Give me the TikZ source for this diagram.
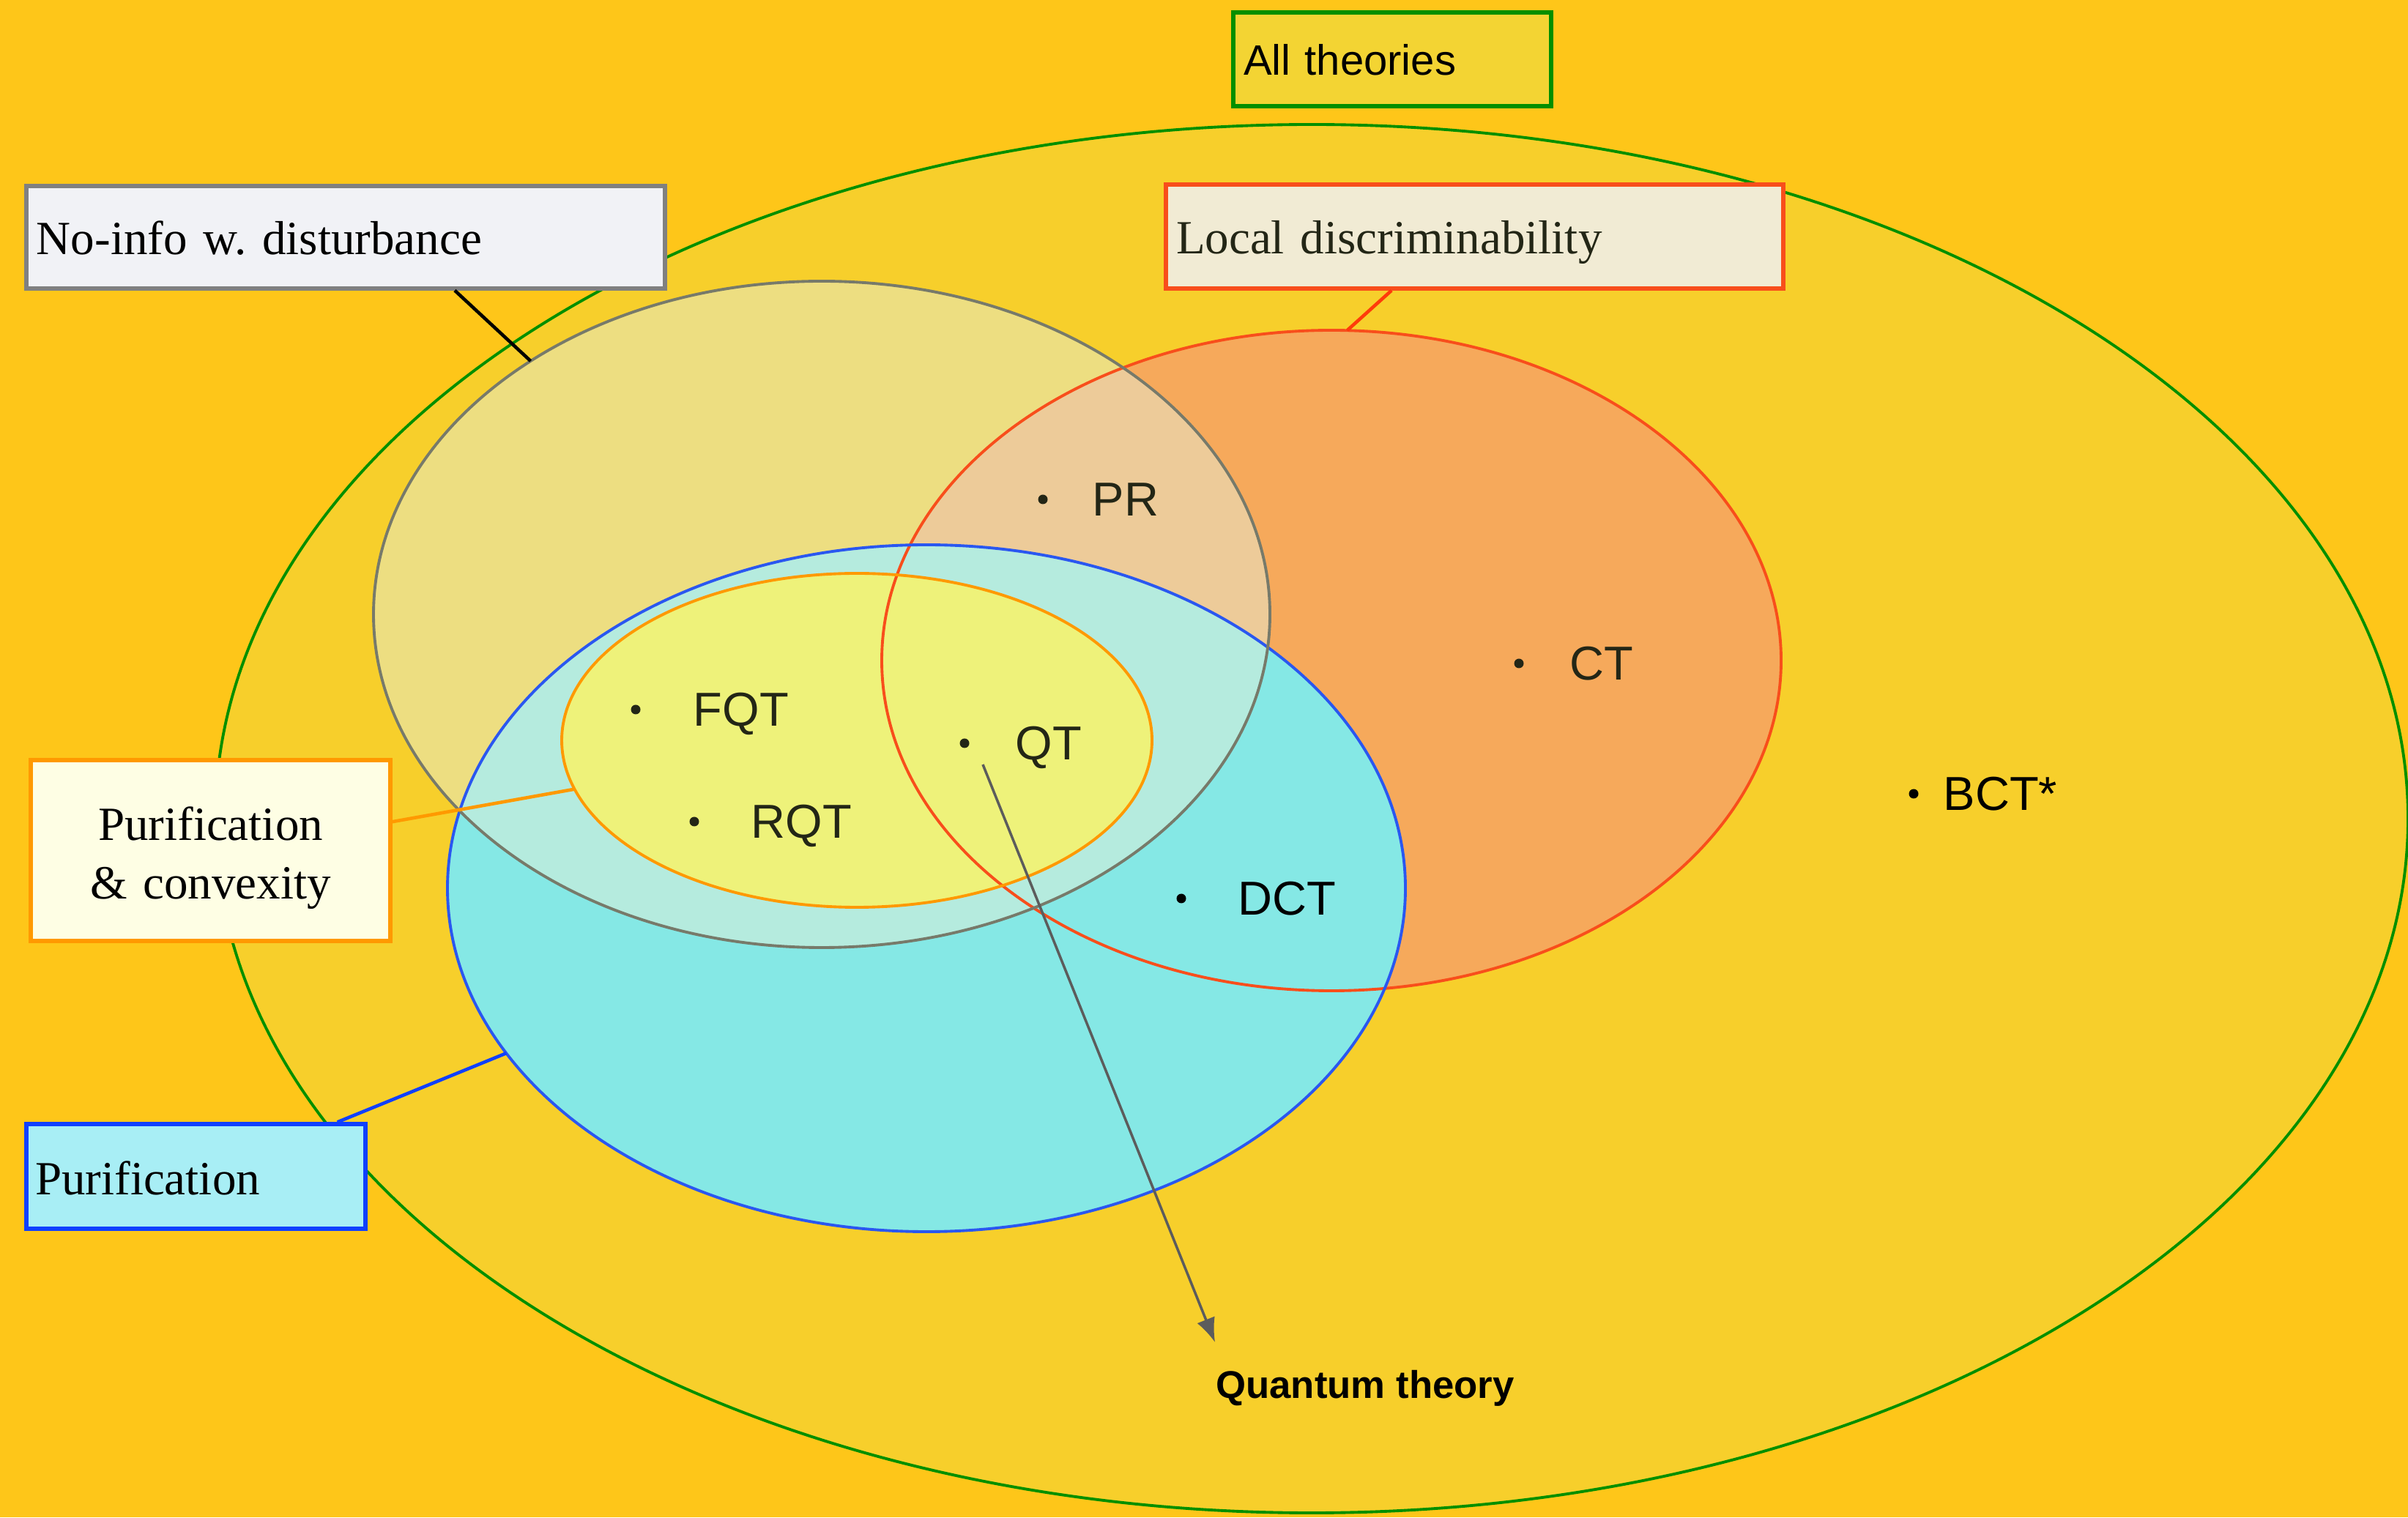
\documentclass[tikz,border=0pt]{standalone}
\usepackage{fontspec}
\setmainfont{Liberation Serif}
\setsansfont{Liberation Sans}
\usepackage{xcolor}
\usetikzlibrary{arrows.meta}

\definecolor{bgyellow}{HTML}{FEC619}
\definecolor{allfill}{HTML}{F7CF2B}
\definecolor{allbox}{HTML}{F3D433}
\definecolor{allgreen}{HTML}{008F00}
\definecolor{greyfill}{HTML}{E5EED8}
\definecolor{greyline}{HTML}{777A6A}
\definecolor{redfill}{HTML}{F6A95B}
\definecolor{redline}{HTML}{F84E1B}
\definecolor{redpin}{HTML}{FF3B0A}
\definecolor{bluefill}{HTML}{85E8E5}
\definecolor{blueline}{HTML}{2A57F0}
\definecolor{bluebox}{HTML}{1040FF}
\definecolor{yelfill}{HTML}{EEF27A}
\definecolor{orangeline}{HTML}{FF9900}
\definecolor{darktext}{HTML}{232616}
\definecolor{arrowgrey}{HTML}{5C5C5C}
\definecolor{noinfofill}{HTML}{F1F2F6}
\definecolor{localfill}{HTML}{F1EBD4}
\definecolor{purconvfill}{HTML}{FEFEE4}
\definecolor{puriffill}{HTML}{A8EEF5}

\frenchspacing

\begin{document}
\begin{tikzpicture}[%
    set/.style = {line width=1.1pt},
    box/.style = {draw, line width=1.5pt, inner ysep=0pt, inner xsep=0.14cm, align=left,
                  font=\fontsize{18.5}{22.8}\selectfont},
    oneline/.style = {text height=13.6pt, text depth=0pt},
    theory/.style = {anchor=west, inner sep=0pt, text depth=0pt,
                     font=\sffamily\fontsize{18.5}{22}\selectfont},
    pin/.style = {line width=1.3pt},
    qtarrow/.style = {draw=arrowgrey, line width=1pt, -{Latex[length=0.33cm, width=0.26cm]}}
]
\useasboundingbox (0,0) rectangle (32.88,20.72);
\fill[bgyellow] (0,0) rectangle (32.88,20.72);

\coordinate (allc) at (17.91,9.54);
\coordinate (greyc) at (11.22,12.33);
\coordinate (redc) at (18.18,11.70);
\coordinate (bluec) at (12.65,8.59);
\coordinate (yelc) at (11.70,10.61);

% fills first, outlines on top
\fill[allfill] (allc) ellipse [x radius=14.97, y radius=9.48];
\fill[redfill] (redc) ellipse [x radius=6.14, y radius=4.51];
\fill[bluefill] (bluec) ellipse [x radius=6.54, y radius=4.69];
\fill[greyfill, fill opacity=0.5] (greyc) ellipse [x radius=6.12, y radius=4.55];
\fill[yelfill] (yelc) ellipse [x radius=4.03, y radius=2.28];

\draw[set, allgreen] (allc) ellipse [x radius=14.97, y radius=9.48];
\draw[set, redline] (redc) ellipse [x radius=6.14, y radius=4.51];
\draw[set, blueline] (bluec) ellipse [x radius=6.54, y radius=4.69];
\draw[set, greyline] (greyc) ellipse [x radius=6.12, y radius=4.55];
\draw[set, orangeline] (yelc) ellipse [x radius=4.03, y radius=2.28];

% where the labels touch their sets
\path (greyc) ++(130.5:6.12 and 4.55) coordinate (noinfo-pin);
\path (redc) ++(88:6.14 and 4.51) coordinate (local-pin);
\path (yelc) ++(197:4.03 and 2.28) coordinate (purconv-pin);
\path (bluec) ++(208.7:6.54 and 4.69) coordinate (purif-pin);

\node[box, oneline, text height=12.5pt, draw=allgreen, fill=allbox,
      font=\sffamily\fontsize{16.5}{20}\selectfont,
      minimum width=4.34cm, minimum height=1.28cm, text width=4.06cm]
    (alltheories) at (19.01,19.91) {All theories};
\node[box, oneline, draw=gray, fill=noinfofill,
      minimum width=8.72cm, minimum height=1.40cm, text width=8.44cm]
    (noinfo) at (4.72,17.48) {No-info w. disturbance};
\node[box, oneline, draw=redline, fill=localfill, text=darktext,
      minimum width=8.43cm, minimum height=1.42cm, text width=8.15cm]
    (localdisc) at (20.135,17.49) {Local discriminability};
\node[box, draw=orangeline, fill=purconvfill, align=center, text depth=21pt,
      minimum width=4.91cm, minimum height=2.47cm, text width=4.63cm]
    (purconv) at (2.875,9.105) {Purification\\\& convexity};
\node[box, oneline, text height=14.5pt, draw=bluebox, fill=puriffill,
      minimum width=4.63cm, minimum height=1.43cm, text width=4.39cm, inner xsep=0.12cm]
    (purif) at (2.675,4.655) {Purification};

\draw[pin, black] (noinfo.-26.6) -- (noinfo-pin);
\draw[pin, redpin] (localdisc.-147.7) -- (local-pin);
\draw[pin, orangeline] (purconv.9.6) -- (purconv-pin);
\draw[pin, bluebox] (purif.21.6) -- (purif-pin);

\foreach \name/\x/\y/\gap/\txt/\col in {
    pr/14.24/13.90/0.67/PR/darktext,
    ct/20.74/11.66/0.69/CT/darktext,
    fqt/8.68/11.03/0.78/FQT/darktext,
    qt/13.17/10.57/0.69/QT/darktext,
    rqt/9.48/9.50/0.77/RQT/darktext,
    dct/16.13/8.45/0.77/DCT/black,
    bct/26.13/9.88/0.40/BCT*/black} {
    \fill[\col] (\x,\y) circle (0.065);
    \node[theory, text=\col] (\name) at (\x+\gap,\y) {\txt};
}

\node[font=\sffamily\bfseries\fontsize{15}{18}\selectfont] (qtlabel) at (18.64,1.76) {Quantum theory};
\coordinate (qt-tail) at (13.42,10.28);
\coordinate (qt-head) at (16.59,2.39);
\draw[qtarrow] (qt-tail) -- (qt-head);
\end{tikzpicture}
\end{document}
